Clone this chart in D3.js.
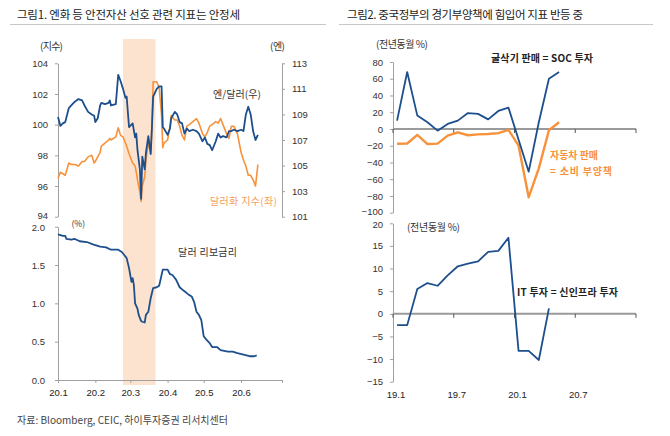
<!DOCTYPE html>
<html><head><meta charset="utf-8">
<script src="https://cdn.jsdelivr.net/npm/d3@7"></script>
<style>
body{margin:0;background:#fff}
svg{display:block}
text{font-family:"Noto Sans CJK KR","Noto Sans",sans-serif}
.tick text{font-family:"Liberation Sans",Arial,sans-serif}
</style>
</head><body>
<svg id="c" width="670" height="436"></svg>
<script>
// ---------- DATA ----------
const topDates = ["01-01","01-03","01-05","01-07","01-10","01-12","01-15","01-18","01-21","01-23","01-26","01-29","01-31",
"02-01","02-03","02-05","02-06","02-09","02-12","02-13","02-14","02-18","02-20","02-22","02-24","02-26","02-27","02-29",
"03-02","03-03","03-05","03-06","03-07","03-09","03-10","03-11","03-13","03-14","03-16","03-18","03-19","03-20","03-23","03-25","03-27","03-28","03-29",
"04-01","04-03","04-04","04-07","04-09","04-11","04-13","04-15","04-17","04-19","04-22","04-25","04-27","04-30",
"05-02","05-04","05-06","05-08","05-11","05-13","05-15","05-17","05-20","05-22","05-24","05-26","05-29",
"06-01","06-03","06-05","06-07","06-09","06-11","06-13","06-15"];
const yenDollar = [108.8,108.1,108.3,108.4,109.5,109.7,110.0,110.2,110.1,109.7,109.2,109.0,108.9,
108.4,108.7,109.7,109.9,109.8,109.9,110.1,109.7,109.8,112.1,111.6,111.0,110.3,110.4,108.0,
108.2,108.3,107.2,107.5,106.2,104.7,102.4,105.7,104.7,106.0,107.3,105.9,108.0,110.4,111.0,111.2,111.2,108.0,107.9,
107.4,107.9,108.7,109.2,109.0,108.4,108.3,107.5,107.9,107.7,107.8,107.7,107.5,106.9,
107.2,106.7,106.6,106.2,106.9,107.5,107.2,107.3,107.2,107.7,107.7,107.8,107.7,
107.8,107.7,109.0,109.6,109.0,107.7,107.0,107.4];
const dollarIndex = [96.5,96.9,96.8,96.7,97.5,97.4,97.4,97.3,97.6,97.6,97.9,98.0,97.5,
97.6,97.9,98.2,98.6,98.8,99.0,99.1,99.0,99.2,99.8,99.3,99.2,98.8,98.6,98.1,
97.7,97.5,97.3,96.9,96.4,95.6,95.0,96.0,96.6,97.7,98.8,98.2,99.9,102.8,102.8,102.4,100.6,98.5,98.8,
99.0,99.9,100.6,100.3,100.3,99.9,99.3,99.0,99.9,100.0,100.2,100.4,100.1,99.4,
99.2,99.5,99.9,100.0,100.2,100.1,100.4,100.0,99.4,99.1,99.9,99.9,99.4,
98.2,97.7,97.3,96.7,96.7,96.4,96.0,97.4];

const liborDates = ["01-01","01-05","01-07","01-08","01-12","01-15","01-19","01-25","01-30","02-05","02-10","02-14","02-20","02-23","02-25","02-27","02-29",
"03-01","03-02","03-03","03-04","03-05","03-07","03-08","03-10","03-11","03-13","03-14","03-16","03-18","03-20","03-23","03-25","03-28","03-31",
"04-01","04-03","04-05","04-08","04-11","04-14","04-18","04-21","04-23","04-25","04-27","04-29",
"05-01","05-03","05-06","05-08","05-12","05-15","05-21","05-25","05-29","06-03","06-08","06-12","06-14"];
const libor = [1.90,1.88,1.88,1.84,1.83,1.84,1.81,1.80,1.77,1.74,1.73,1.70,1.70,1.67,1.63,1.59,1.46,
1.37,1.28,1.33,1.24,1.00,0.93,0.85,0.77,0.76,0.75,0.85,0.89,1.07,1.20,1.21,1.23,1.44,1.44,
1.44,1.38,1.37,1.31,1.21,1.17,1.12,1.09,1.02,0.89,0.85,0.78,
0.57,0.53,0.48,0.43,0.43,0.39,0.37,0.37,0.35,0.33,0.31,0.31,0.32];

const shadeRange = ["02-24","03-22"];
const monthTicksL = ["01-01","02-01","03-01","04-01","05-01","06-01"];
const leftTicks = [94,96,98,100,102,104];
const rightTicks = [101,103,105,107,109,111,113];
const liborTicks = [0,0.5,1.0,1.5,2.0];

const months = ["19.1","19.2","19.3","19.4","19.5","19.6","19.7","19.8","19.9","19.10","19.11","19.12",
"20.1","20.2","20.3","20.4","20.5","20.6","20.7","20.8","20.9","20.10","20.11","20.12"];
const excavator = [10,68,16,8,-2,6,10,19,18,11.5,21.5,25.5,null,-51,8,60,68];
const autoSales = [-17.6,-17.3,-7,-18,-17.5,-8,-4,-7.5,-6.5,-6,-5,-1,-20,-81.5,-47,-1.5,8];
const itInvest = [-2.5,-2.5,5.5,6.8,6.2,8.5,10.5,11.1,11.6,13.7,13.9,16.8,-8.2,-8.2,-10.2,1.2];
const monthTickLabels = ["19.1","19.7","20.1","20.7"];
const topRTicks = [-100,-80,-60,-40,-20,0,20,40,60,80];
const botRTicks = [-15,-10,-5,0,5,10,15,20];

// ---------- STYLE ----------
const BLUE = "#1d4f8d", ORANGE = "#f7923a", ORANGE_TXT = "#f5a15e", SHADE = "#fce3cf";
const AX = "#a0a0a0", TXT = "#333";

const svg = d3.select("#c");
const pd = s => d3.timeParse("%Y-%m-%d")("2020-" + s);

function styleAxis(g, fs) {
  g.selectAll("path").attr("stroke", AX).attr("stroke-width", 1);
  g.selectAll("line").attr("stroke", AX);
  g.selectAll("text").attr("fill", TXT).style("font-size", fs + "px");
}
function nudge(g, val, dy) {
  g.selectAll(".tick").filter(d => d === val).select("text").attr("y", dy);
}
function label(x, y, t, opt = {}) {
  const el = svg.append("text").attr("x", x).attr("y", y).text(t)
    .attr("dominant-baseline", "central")
    .attr("text-anchor", opt.anchor || "start")
    .attr("fill", opt.fill || TXT)
    .style("font-size", (opt.size || 10) + "px")
    .style("font-weight", opt.weight || "normal");
  if (opt.len) el.attr("textLength", opt.len).attr("lengthAdjust", "spacing");
  return el;
}

// titles
label(17, 14, "그림1. 엔화 등 안전자산 선호 관련 지표는 안정세", {size: 11.5, fill: "#222", len: 223});
label(347, 14, "그림2. 중국정부의 경기부양책에 힘입어 지표 반등 중", {size: 11.5, fill: "#222", len: 236});
svg.append("line").attr("x1", 10).attr("x2", 326).attr("y1", 24.5).attr("y2", 24.5).attr("stroke", "#c8c8c8");
svg.append("line").attr("x1", 339).attr("x2", 653).attr("y1", 24.5).attr("y2", 24.5).attr("stroke", "#c8c8c8");

// ---------- LEFT PANEL ----------
const xL = d3.scaleTime().domain([pd("01-01"), pd("07-05")]).range([58, 282]);
const yL = d3.scaleLinear().domain([94, 104]).range([216.7, 63.3]);
const yR = d3.scaleLinear().domain([101, 113]).range([216.7, 63.3]);
const yB = d3.scaleLinear().domain([0, 2]).range([380, 226.7]);

// shade
svg.append("rect")
  .attr("x", xL(pd(shadeRange[0]))).attr("width", xL(pd(shadeRange[1])) - xL(pd(shadeRange[0])))
  .attr("y", 39).attr("height", 385 - 39).attr("fill", SHADE);

svg.append("g").attr("transform", "translate(58,0)")
  .call(d3.axisLeft(yL).tickValues(leftTicks).tickSize(3).tickSizeOuter(0).tickPadding(7))
  .call(g => styleAxis(g, 9.5)).call(g => nudge(g, 94, -1.2));
svg.append("g").attr("transform", "translate(282,0)")
  .call(d3.axisRight(yR).tickValues(rightTicks).tickSize(3).tickSizeOuter(0).tickPadding(7))
  .call(g => styleAxis(g, 9.5));

const topD = topDates.map((d, i) => ({d: pd(d), yen: yenDollar[i], dx: dollarIndex[i]}));
svg.append("path").datum(topD)
  .attr("d", d3.line().x(d => xL(d.d)).y(d => yL(d.dx)))
  .attr("fill", "none").attr("stroke", ORANGE).attr("stroke-width", 1.6).attr("stroke-linejoin", "round");
svg.append("path").datum(topD)
  .attr("d", d3.line().x(d => xL(d.d)).y(d => yR(d.yen)))
  .attr("fill", "none").attr("stroke", BLUE).attr("stroke-width", 1.8).attr("stroke-linejoin", "round");

label(40, 45, "(지수)", {len: 23});
label(270, 45, "(엔)", {len: 15});
label(213, 93, "엔/달러(우)", {len: 48});
label(210, 200, "달러화 지수(좌)", {fill: ORANGE_TXT, len: 67});

// bottom-left
svg.append("g").attr("transform", "translate(58,0)")
  .call(d3.axisLeft(yB).tickValues(liborTicks).tickSize(3).tickSizeOuter(0).tickPadding(10).tickFormat(d3.format(".1f")))
  .call(g => styleAxis(g, 9.5)).call(g => nudge(g, 2, 1.2));
svg.append("g").attr("transform", "translate(0,380)")
  .call(d3.axisBottom(xL).tickValues(monthTicksL.map(pd).concat([pd("07-05")])).tickSize(3).tickSizeOuter(0).tickPadding(6)
    .tickFormat(d => d.getMonth() === 6 ? "" : "20." + (d.getMonth() + 1)))
  .call(g => styleAxis(g, 9.5))
  .call(g => g.selectAll("text").attr("fill", "#222"));

const libD = liborDates.map((d, i) => ({d: pd(d), v: libor[i]}));
svg.append("path").datum(libD)
  .attr("d", d3.line().x(d => xL(d.d)).y(d => yB(d.v)))
  .attr("fill", "none").attr("stroke", BLUE).attr("stroke-width", 1.8).attr("stroke-linejoin", "round");

label(71.5, 222.5, "(%)", {size: 8.5});
label(178, 251, "달러 리보금리", {len: 59});

label(17, 419, "자료: Bloomberg, CEIC, 하이투자증권 리서치센터", {fill: "#444", len: 211});

// ---------- RIGHT PANEL ----------
const xM = d3.scaleBand().domain(months).range([393, 636]);
const cx = m => xM(m) + xM.bandwidth() / 2 - 1;
const edgeTicks = monthTickLabels.map(m => xM(m)).concat([xM.range()[1]]);
const yT = d3.scaleLinear().domain([-100, 80]).range([212.7, 62]);
const yI = d3.scaleLinear().domain([-15, 20]).range([381.7, 223.3]);

function zeroLine(yS) {
  const y0 = yS(0);
  svg.append("line").attr("x1", 393).attr("x2", xM.range()[1]).attr("y1", y0).attr("y2", y0)
    .attr("stroke", "#9a9a9a").attr("stroke-width", 2);
  svg.append("g").selectAll("line").data(edgeTicks).join("line")
    .attr("x1", d => d).attr("x2", d => d).attr("y1", y0).attr("y2", y0 + 4)
    .attr("stroke", "#555").attr("stroke-width", 1);
}

svg.append("g").attr("transform", "translate(393,0)")
  .call(d3.axisLeft(yT).tickValues(topRTicks).tickSize(3).tickSizeOuter(0).tickPadding(7))
  .call(g => styleAxis(g, 9.5)).call(g => nudge(g, -100, -1.2));
zeroLine(yT);

svg.append("path").datum(months.slice(0, autoSales.length).map((m, i) => ({m, v: autoSales[i]})))
  .attr("d", d3.line().defined(d => d.v != null).x(d => cx(d.m)).y(d => yT(d.v)))
  .attr("fill", "none").attr("stroke", ORANGE).attr("stroke-width", 2.4).attr("stroke-linejoin", "round");
svg.append("path").datum(months.slice(0, excavator.length).map((m, i) => ({m, v: excavator[i]})).filter(d => d.v != null))
  .attr("d", d3.line().x(d => cx(d.m)).y(d => yT(d.v)))
  .attr("fill", "none").attr("stroke", BLUE).attr("stroke-width", 1.8).attr("stroke-linejoin", "round");

label(376, 43, "(전년동월 %)", {len: 52});
label(491, 57, "굴삭기 판매 = SOC 투자", {weight: "bold", fill: "#222", len: 102});
label(550, 154, "자동차 판매", {fill: ORANGE, weight: "bold", len: 48});
label(550, 170, "= 소비 부양책", {fill: ORANGE, weight: "bold", len: 62});

// bottom-right
svg.append("g").attr("transform", "translate(393,0)")
  .call(d3.axisLeft(yI).tickValues(botRTicks).tickSize(3).tickSizeOuter(0).tickPadding(7))
  .call(g => styleAxis(g, 9.5)).call(g => nudge(g, 20, 1.2));
zeroLine(yI);

svg.append("path").datum(months.slice(0, itInvest.length).map((m, i) => ({m, v: itInvest[i]})))
  .attr("d", d3.line().x(d => cx(d.m)).y(d => yI(d.v)))
  .attr("fill", "none").attr("stroke", BLUE).attr("stroke-width", 1.8).attr("stroke-linejoin", "round");

svg.append("g").selectAll("text").data(monthTickLabels).join("text")
  .attr("x", d => xM(d) + 3).attr("y", 394).text(d => d)
  .attr("text-anchor", "middle").attr("dominant-baseline", "central")
  .attr("fill", "#222").style("font-size", "9.5px").style("font-family", "'Liberation Sans',Arial,sans-serif");

label(407, 226, "(전년동월 %)", {len: 53});
label(517, 291, "IT 투자 = 신인프라 투자", {weight: "bold", fill: "#222", len: 101});
</script>
</body></html>
